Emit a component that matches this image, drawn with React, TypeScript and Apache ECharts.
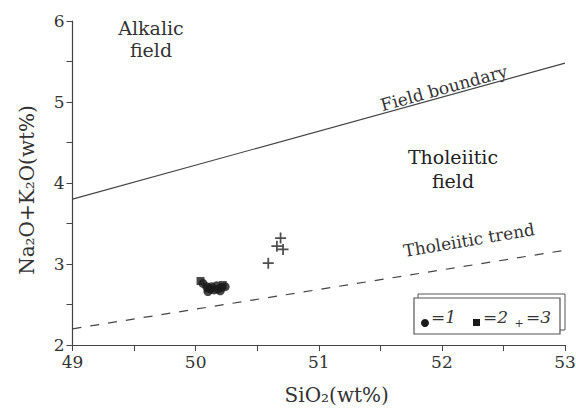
import React, { useEffect, useRef } from "react";
import * as echarts from "echarts";

const xRange = [49, 53];
const yRange = [2, 6];
const group1Circles: number[][] = [
  [50.06, 2.76], [50.09, 2.72], [50.12, 2.69], [50.15, 2.68], [50.18, 2.69],
  [50.21, 2.71], [50.24, 2.72], [50.2, 2.67], [50.13, 2.72], [50.17, 2.73],
  [50.1, 2.66],
];
const group2Squares: number[][] = [
  [50.04, 2.79], [50.1, 2.7], [50.22, 2.74],
];
const group3Plus: number[][] = [
  [50.59, 3.01], [50.66, 3.22], [50.69, 3.32], [50.71, 3.18],
];
const boundaryLine: number[][] = [[49, 3.8], [53, 5.48]];
const trendLine: number[][] = [[49, 2.2], [53, 3.17]];

const FONT = "'DejaVu Serif', serif";
const INK = "#333";

export default function App() {
  const ref = useRef<HTMLDivElement>(null);
  useEffect(() => {
    if (!ref.current) return;
    const chart = echarts.init(ref.current, undefined, { renderer: "svg" });
    const plus = "path://M4.2,0 L5.8,0 L5.8,4.2 L10,4.2 L10,5.8 L5.8,5.8 L5.8,10 L4.2,10 L4.2,5.8 L0,5.8 L0,4.2 L4.2,4.2 Z";
    chart.setOption({
      animation: false,
      backgroundColor: "#fff",
      grid: { left: 72.5, right: 11, top: 21, bottom: 63, containLabel: false, outerBoundsMode: "none" },
      xAxis: {
        type: "value",
        min: xRange[0],
        max: xRange[1],
        interval: 1,
        name: "SiO₂(wt%)",
        nameLocation: "middle",
        nameGap: 40,
        nameTextStyle: { fontFamily: FONT, fontSize: 20, color: INK, padding: [0, 0, 0, 36] },
        axisLine: { show: true, lineStyle: { color: "#444", width: 1.2 } },
        axisTick: { show: true, length: 6, lineStyle: { color: "#444" } },
        minorTick: { show: true, splitNumber: 2, length: 6, lineStyle: { color: "#444" } },
        axisLabel: { fontFamily: FONT, fontSize: 17, color: INK, margin: 8 },
        splitLine: { show: false },
      },
      yAxis: {
        type: "value",
        min: yRange[0],
        max: yRange[1],
        interval: 1,
        name: "Na₂O+K₂O(wt%)",
        nameLocation: "middle",
        nameGap: 36,
        nameRotate: 90,
        nameTextStyle: { fontFamily: FONT, fontSize: 20, color: INK, padding: [0, 14, 0, 0] },
        axisLine: { show: true, lineStyle: { color: "#444", width: 1.2 } },
        axisTick: { show: true, length: 6, lineStyle: { color: "#444" } },
        minorTick: { show: true, splitNumber: 2, length: 6, lineStyle: { color: "#444" } },
        axisLabel: { fontFamily: FONT, fontSize: 17, color: INK, margin: 8 },
        splitLine: { show: false },
      },
      series: [
        {
          type: "line",
          data: boundaryLine,
          symbol: "none",
          lineStyle: { color: "#444", width: 1.2 },
          silent: true,
        },
        {
          type: "line",
          data: trendLine,
          symbol: "none",
          lineStyle: { color: "#444", width: 1.2, type: [9, 9] },
          silent: true,
        },
        {
          type: "scatter",
          data: group1Circles,
          symbol: "circle",
          symbolSize: 9,
          itemStyle: { color: "#1a1a1a" },
        },
        {
          type: "scatter",
          data: group2Squares,
          symbol: "rect",
          symbolSize: 8,
          itemStyle: { color: "#1a1a1a" },
        },
        {
          type: "scatter",
          data: group3Plus,
          symbol: plus,
          symbolSize: 11,
          itemStyle: { color: "#222" },
        },
      ],
      graphic: [
        { type: "text", x: 151, y: 17, style: { text: "Alkalic\nfield", fontFamily: FONT, fontSize: 19, fill: INK, lineHeight: 22, align: "center" } },
        { type: "text", x: 453, y: 145, style: { text: "Tholeiitic\nfield", fontFamily: FONT, fontSize: 19, fill: "#222", lineHeight: 24, align: "center" } },
        { type: "text", x: 444, y: 88, rotation: (15.5 * Math.PI) / 180, style: { text: "Field boundary", fontFamily: FONT, fontSize: 17, fill: INK, align: "center", verticalAlign: "middle" } },
        { type: "text", x: 469, y: 240, rotation: (9.5 * Math.PI) / 180, style: { text: "Tholeiitic trend", fontFamily: FONT, fontSize: 17, fill: INK, align: "center", verticalAlign: "middle" } },
        { type: "rect", shape: { x: 418, y: 294, width: 147, height: 36 }, style: { fill: "#fff", stroke: "#555", lineWidth: 1 } },
        { type: "rect", shape: { x: 414, y: 298, width: 146, height: 36 }, style: { fill: "#fff", stroke: "#555", lineWidth: 1.2 } },
        { type: "circle", shape: { cx: 425, cy: 323, r: 4 }, style: { fill: "#1a1a1a" } },
        { type: "text", x: 431, y: 317, style: { text: "=1", fontFamily: FONT, fontSize: 17, fontStyle: "italic", fill: INK, verticalAlign: "middle" } },
        { type: "rect", shape: { x: 473, y: 319, width: 7, height: 7 }, style: { fill: "#1a1a1a" } },
        { type: "text", x: 483, y: 317, style: { text: "=2", fontFamily: FONT, fontSize: 17, fontStyle: "italic", fill: INK, verticalAlign: "middle" } },
        { type: "text", x: 519, y: 323, style: { text: "+", fontFamily: FONT, fontSize: 11, fill: INK, align: "center", verticalAlign: "middle" } },
        { type: "text", x: 526, y: 317, style: { text: "=3", fontFamily: FONT, fontSize: 17, fontStyle: "italic", fill: INK, verticalAlign: "middle" } },
      ],
    });
    return () => chart.dispose();
  }, []);
  return <div ref={ref} style={{ width: 576, height: 408, position: "absolute", left: 0, top: 0 }} />;
}
